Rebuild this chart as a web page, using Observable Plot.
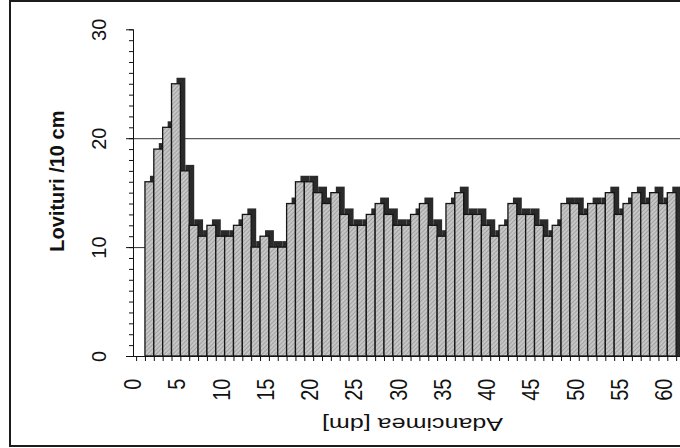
<!DOCTYPE html>
<html><head><meta charset="utf-8">
<script src="https://cdn.jsdelivr.net/npm/d3@7"></script>
<script src="https://cdn.jsdelivr.net/npm/@observablehq/plot@0.6"></script>
<style>
html,body{margin:0;padding:0;background:#fff;overflow:hidden;width:680px;height:448px;}
#frame{position:absolute;left:9px;top:0;width:720px;height:443px;border:2px solid #1c1c1c;border-right:none;overflow:hidden;}
#frame svg{position:absolute;left:0;top:0;}
</style></head><body><div id="frame"></div>
<script>
// depth categories [dm]
const depths = [1,2,3,4,5,6,7,8,9,10,11,12,13,14,15,16,17,18,19,20,
  21,22,23,24,25,26,27,28,29,30,31,32,33,34,35,36,37,38,39,40,
  41,42,43,44,45,46,47,48,49,50,51,52,53,54,55,56,57,58,59,60];
// blows per 10 cm
const blows = [16,19,21,25,17,12,11,12,11,11,12,13,10,11,10,10,14,16,16,15,
  14,15,13,12,12,13,14,13,12,12,13,14,12,11,14,15,13,13,12,11,
  12,14,13,13,12,11,12,14,14,13,14,14,15,13,14,15,14,15,14,15];
const xLabels = [0,5,10,15,20,25,30,35,40,45,50,55,60];
const yTicks = [0,10,20,30];
const yMinorTicks = d3.range(0, 31);
const gridValues = [10,20];
const xDomain = [-0.85, 61.5];
const xBounds = d3.range(-0.5, 61.6, 1);
const yTitle = "Lovituri /10 cm";
const xTitle = "Adancimea [dm]";

const data = depths.map((d, i) => ({depth: d, value: blows[i]}));
const font = "'Liberation Sans', Arial, sans-serif";

const chart = Plot.plot({
  width: 674, height: 443,
  marginLeft: 122, marginRight: 0, marginTop: 27.3, marginBottom: 89,
  style: {fontFamily: font, background: "transparent", color: "#111", overflow: "visible"},
  x: {type: "linear", domain: xDomain, axis: null},
  y: {domain: [0, 30], axis: null},
  marks: [
    Plot.ruleY(gridValues, {stroke: "#333", strokeWidth: 1}),
    Plot.rect(data, {x1: d => d.depth - 0.5, x2: d => d.depth + 0.5, y1: 0, y2: "value",
      dx: 5, dy: -6, insetBottom: -6, fill: "#2a2a2a"}),
    Plot.rect(data, {x1: d => d.depth - 0.5, x2: d => d.depth + 0.5, y1: 0, y2: "value",
      fill: "url(#hatch)", stroke: "#151515", strokeWidth: 1.3}),
    Plot.ruleY([0], {stroke: "#111"}),
    Plot.ruleX([xDomain[0]], {y1: 0, y2: 30, stroke: "#111"}),
    Plot.axisY({ticks: yMinorTicks, tickSize: 4, fill: "none", stroke: "#111"}),
    Plot.axisY({ticks: yTicks, tickSize: 7, fill: "none", stroke: "#111"}),
    Plot.axisX({ticks: xBounds, tickSize: 5, fill: "none", stroke: "#111"}),
    Plot.text(yTicks, {y: d => d, text: d => String(d), frameAnchor: "left", dx: -33.5,
      rotate: -90, textAnchor: "middle", fontSize: 20, fill: "#111"}),
    Plot.text(xLabels, {x: d => d, text: d => String(d), frameAnchor: "bottom", dy: 22,
      rotate: -90, textAnchor: "end", fontSize: 20, fill: "#111", className: "xlab"}),
    Plot.text([yTitle], {frameAnchor: "left", dx: -76, dy: -12, rotate: -90, textAnchor: "middle",
      fontWeight: "bold", fontSize: 20, fill: "#111"}),
    Plot.text([xTitle], {frameAnchor: "bottom", dx: 3, dy: 61, rotate: 180, textAnchor: "middle",
      fontSize: 19, fill: "#111"})
  ]
});

const defs = d3.select(chart).insert("defs", ":first-child");
const p = defs.append("pattern").attr("id", "hatch").attr("patternUnits", "userSpaceOnUse")
  .attr("width", 3).attr("height", 3).attr("patternTransform", "rotate(45)");
p.append("rect").attr("width", 3).attr("height", 3).attr("fill", "#c6c6c6");
p.append("rect").attr("width", 1).attr("height", 3).attr("fill", "#a2a2a2");

// the scanned original is stretched horizontally: widen the x title and x tick labels accordingly
d3.select(chart).selectAll("text").filter(function() { return this.textContent === xTitle; })
  .attr("transform", function() { return (this.getAttribute("transform") || "") + " scale(1.32,1)"; });
d3.select(chart).selectAll("text").filter(function() { return xLabels.map(String).includes(this.textContent) && /rotate\(-90\)/.test(this.getAttribute("transform") || "") && this.closest("g") && this.parentNode.getAttribute("class") && this.parentNode.getAttribute("class").includes("xlab"); })
  .attr("transform", function() { return (this.getAttribute("transform") || "") + " scale(1,1.18)"; });

document.getElementById("frame").appendChild(chart);
</script>
</body></html>
